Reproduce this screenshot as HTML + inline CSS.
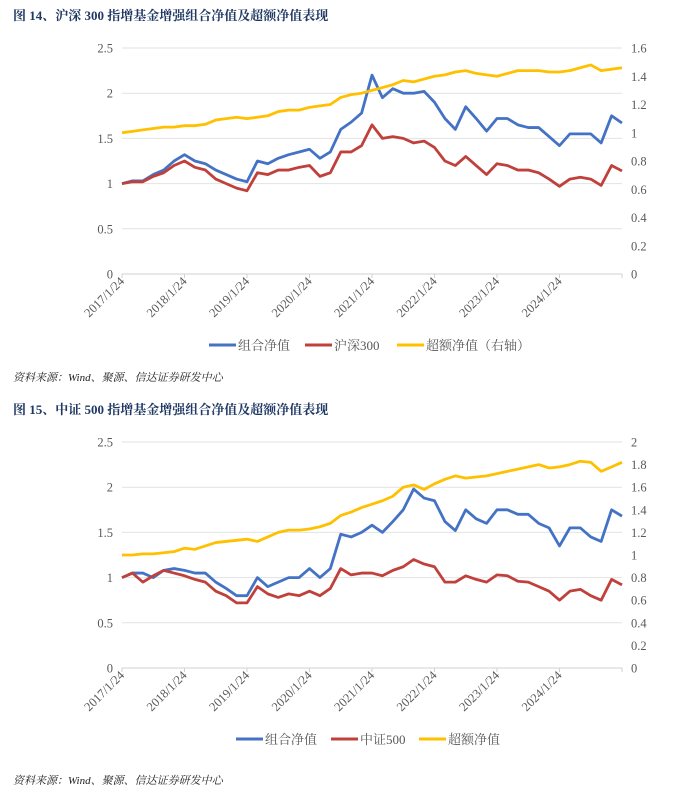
<!DOCTYPE html>
<html><head><meta charset="utf-8"><style>
body{margin:0;background:#fff;width:700px;height:796px;overflow:hidden;font-family:"Liberation Serif","Noto Serif CJK SC",serif;}
.title{position:absolute;left:13px;font-size:13px;font-weight:bold;color:#1F3864;font-family:"Liberation Serif","Noto Serif CJK SC",serif;}
.src{position:absolute;left:13px;font-size:11px;font-style:italic;color:#222;font-family:"Liberation Serif","Noto Serif CJK SC",serif;}
svg{position:absolute;left:0;top:0}
</style></head><body>
<div class="title" style="top:5px">图 14、沪深 300 指增基金增强组合净值及超额净值表现</div>
<div class="src" style="top:369px">资料来源：Wind、聚源、信达证券研发中心</div>
<div class="title" style="top:399px">图 15、中证 500 指增基金增强组合净值及超额净值表现</div>
<div class="src" style="top:772px">资料来源：Wind、聚源、信达证券研发中心</div>
<svg id="s" width="700" height="796"></svg>
<script>
const months=[0,2,4,6,8,10,12,14,16,18,20,22,24,26,28,30,32,34,36,38,40,42,44,46,48,50,52,54,56,58,60,62,64,66,68,70,72,74,76,78,80,82,84,86,88,90,92,94,96];
const yearLabels=["2017/1/24","2018/1/24","2019/1/24","2020/1/24","2021/1/24","2022/1/24","2023/1/24","2024/1/24"];
const c1Blue=[1.0,1.03,1.03,1.1,1.15,1.25,1.32,1.25,1.22,1.15,1.1,1.05,1.02,1.25,1.22,1.28,1.32,1.35,1.38,1.28,1.35,1.6,1.68,1.78,2.2,1.95,2.05,2.0,2.0,2.02,1.9,1.72,1.6,1.85,1.72,1.58,1.72,1.72,1.65,1.62,1.62,1.52,1.42,1.55,1.55,1.55,1.45,1.75,1.67];
const c1Red=[1.0,1.02,1.02,1.08,1.12,1.2,1.25,1.18,1.15,1.05,1.0,0.95,0.92,1.12,1.1,1.15,1.15,1.18,1.2,1.08,1.12,1.35,1.35,1.42,1.65,1.5,1.52,1.5,1.45,1.47,1.4,1.25,1.2,1.3,1.2,1.1,1.22,1.2,1.15,1.15,1.12,1.05,0.97,1.05,1.07,1.05,0.98,1.2,1.14];
const c1Yellow=[1.0,1.01,1.02,1.03,1.04,1.04,1.05,1.05,1.06,1.09,1.1,1.11,1.1,1.11,1.12,1.15,1.16,1.16,1.18,1.19,1.2,1.25,1.27,1.28,1.3,1.32,1.34,1.37,1.36,1.38,1.4,1.41,1.43,1.44,1.42,1.41,1.4,1.42,1.44,1.44,1.44,1.43,1.43,1.44,1.46,1.48,1.44,1.45,1.46];
const c2Blue=[1.0,1.05,1.05,1.0,1.08,1.1,1.08,1.05,1.05,0.95,0.88,0.8,0.8,1.0,0.9,0.95,1.0,1.0,1.1,1.0,1.1,1.48,1.45,1.5,1.58,1.5,1.62,1.75,1.98,1.88,1.85,1.62,1.52,1.75,1.65,1.6,1.75,1.75,1.7,1.7,1.6,1.55,1.35,1.55,1.55,1.45,1.4,1.75,1.68];
const c2Red=[1.0,1.05,0.95,1.02,1.08,1.05,1.02,0.98,0.95,0.85,0.8,0.72,0.72,0.9,0.82,0.78,0.82,0.8,0.85,0.8,0.88,1.1,1.03,1.05,1.05,1.02,1.08,1.12,1.2,1.15,1.12,0.95,0.95,1.02,0.98,0.95,1.03,1.02,0.96,0.95,0.9,0.85,0.75,0.85,0.87,0.8,0.75,0.98,0.92];
const c2Yellow=[1.0,1.0,1.01,1.01,1.02,1.03,1.06,1.05,1.08,1.11,1.12,1.13,1.14,1.12,1.16,1.2,1.22,1.22,1.23,1.25,1.28,1.35,1.38,1.42,1.45,1.48,1.52,1.6,1.62,1.58,1.63,1.67,1.7,1.68,1.69,1.7,1.72,1.74,1.76,1.78,1.8,1.77,1.78,1.8,1.83,1.82,1.74,1.78,1.82];
const leftTicks=[0,0.5,1,1.5,2,2.5];
const right1Ticks=[0,0.2,0.4,0.6,0.8,1,1.2,1.4,1.6];
const right2Ticks=[0,0.2,0.4,0.6,0.8,1,1.2,1.4,1.6,1.8,2];

const S=document.getElementById('s');const NS='http://www.w3.org/2000/svg';
function mk(t,a,p){const e=document.createElementNS(NS,t);for(const k in a)e.setAttribute(k,a[k]);(p||S).appendChild(e);return e;}
const X0=122,X1=622;
const xs=m=>X0+(X1-X0)*m/96;
function chart(top,bottom,rMax,rTicks,blue,red,yellow,names,leg,pre){
  const g=mk('g',{});
  
  
  const yl=v=>bottom-(bottom-top)*v/2.5, yr=v=>bottom-(bottom-top)*v/rMax;
  leftTicks.forEach(v=>{
    const l=mk('line',{x1:X0,x2:X1,y1:yl(v),y2:yl(v),stroke:v===0?'#d0d0d0':'#e2e2e2','stroke-width':1},g);
    
    const t=mk('text',{x:113,y:yl(v)+4.5,'text-anchor':'end','font-size':12.5,fill:'#595959'},g);t.textContent=v;
    
  });
  rTicks.forEach(v=>{const t=mk('text',{x:631,y:yr(v)+4.5,'font-size':12.5,fill:'#595959'},g);t.textContent=v;
    });
  yearLabels.forEach((s,i)=>{const x=xs(i*12);
    mk('line',{x1:x,x2:x,y1:bottom,y2:bottom+4,stroke:'#d0d0d0'},g);
    const t=mk('text',{x:x+3,y:bottom+8,'text-anchor':'end','font-size':12.5,fill:'#595959',transform:`rotate(-45 ${x+3} ${bottom+8})`},g);t.textContent=s;
    });
  mk('line',{x1:X1,x2:X1,y1:bottom,y2:bottom+4,stroke:'#d0d0d0'},g);
  const series=[[blue,yl,'#4472C4',names[0]],[red,yl,'#C0403C',names[1]],[yellow,yr,'#FFC000',names[2]]];
  series.forEach(([d,f,c,n],i)=>{
    const p=mk('polyline',{points:d.map((v,j)=>xs(months[j])+','+f(v)).join(' '),fill:'none',stroke:c,'stroke-width':2.8,'stroke-linejoin':'round'},g);
    
    
  });
  series.forEach(([d,f,c,n],i)=>{
    const lg=mk('g',{});
    
    
    mk('line',{x1:leg[i],x2:leg[i]+27,y1:leg[3],y2:leg[3],stroke:c,'stroke-width':3},lg);
    const t=mk('text',{x:leg[i]+29,y:leg[3]+5,'font-size':13,fill:'#595959','font-family':'"Liberation Serif","Noto Serif CJK SC",serif'},lg);t.textContent=n;
  });
}
chart(48,274,1.6,right1Ticks,c1Blue,c1Red,c1Yellow,['组合净值','沪深300','超额净值（右轴）'],[209,305,397,345],'chart1');
chart(442,668,2,right2Ticks,c2Blue,c2Red,c2Yellow,['组合净值','中证500','超额净值'],[236,331,419,739],'chart2');
</script>
</body></html>
